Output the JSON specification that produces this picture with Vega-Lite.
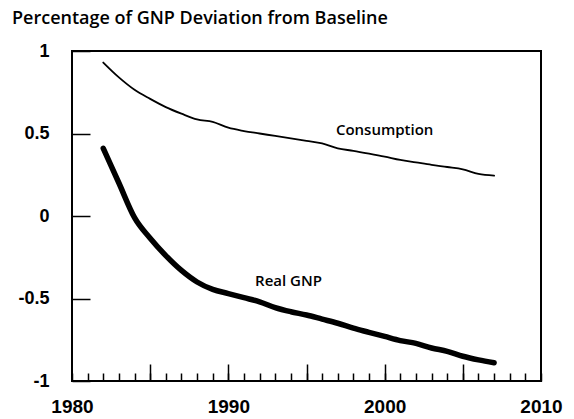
{
  "$schema": "https://vega.github.io/schema/vega-lite/v6.json",
  "width": 469,
  "height": 330,
  "autosize": "none",
  "padding": {"left": 72, "top": 51, "right": 33, "bottom": 38},
  "background": "white",
  "title": {
    "text": "Percentage of GNP Deviation from Baseline",
    "anchor": "start",
    "frame": "group",
    "dx": -60,
    "offset": 14,
    "font": "Open Sans",
    "fontSize": 18,
    "fontWeight": 600,
    "color": "black"
  },
  "config": {
    "view": {"stroke": "black", "strokeWidth": 2},
    "axis": {"grid": false, "domain": false, "title": null, "tickColor": "black", "labelColor": "black"}
  },
  "datasets": {
    "series": [
      {"year": 1982, "value": 0.93, "series": "Consumption"},
      {"year": 1983, "value": 0.84, "series": "Consumption"},
      {"year": 1984, "value": 0.765, "series": "Consumption"},
      {"year": 1985, "value": 0.71, "series": "Consumption"},
      {"year": 1986, "value": 0.66, "series": "Consumption"},
      {"year": 1987, "value": 0.62, "series": "Consumption"},
      {"year": 1988, "value": 0.585, "series": "Consumption"},
      {"year": 1989, "value": 0.57, "series": "Consumption"},
      {"year": 1990, "value": 0.535, "series": "Consumption"},
      {"year": 1991, "value": 0.515, "series": "Consumption"},
      {"year": 1992, "value": 0.5, "series": "Consumption"},
      {"year": 1993, "value": 0.485, "series": "Consumption"},
      {"year": 1994, "value": 0.47, "series": "Consumption"},
      {"year": 1995, "value": 0.455, "series": "Consumption"},
      {"year": 1996, "value": 0.44, "series": "Consumption"},
      {"year": 1997, "value": 0.41, "series": "Consumption"},
      {"year": 1998, "value": 0.395, "series": "Consumption"},
      {"year": 1999, "value": 0.378, "series": "Consumption"},
      {"year": 2000, "value": 0.36, "series": "Consumption"},
      {"year": 2001, "value": 0.34, "series": "Consumption"},
      {"year": 2002, "value": 0.325, "series": "Consumption"},
      {"year": 2003, "value": 0.31, "series": "Consumption"},
      {"year": 2004, "value": 0.297, "series": "Consumption"},
      {"year": 2005, "value": 0.283, "series": "Consumption"},
      {"year": 2006, "value": 0.255, "series": "Consumption"},
      {"year": 2007, "value": 0.245, "series": "Consumption"},
      {"year": 1982, "value": 0.41, "series": "Real GNP"},
      {"year": 1983, "value": 0.2, "series": "Real GNP"},
      {"year": 1984, "value": -0.01, "series": "Real GNP"},
      {"year": 1985, "value": -0.135, "series": "Real GNP"},
      {"year": 1986, "value": -0.24, "series": "Real GNP"},
      {"year": 1987, "value": -0.33, "series": "Real GNP"},
      {"year": 1988, "value": -0.4, "series": "Real GNP"},
      {"year": 1989, "value": -0.445, "series": "Real GNP"},
      {"year": 1990, "value": -0.47, "series": "Real GNP"},
      {"year": 1991, "value": -0.495, "series": "Real GNP"},
      {"year": 1992, "value": -0.52, "series": "Real GNP"},
      {"year": 1993, "value": -0.555, "series": "Real GNP"},
      {"year": 1994, "value": -0.58, "series": "Real GNP"},
      {"year": 1995, "value": -0.6, "series": "Real GNP"},
      {"year": 1996, "value": -0.625, "series": "Real GNP"},
      {"year": 1997, "value": -0.65, "series": "Real GNP"},
      {"year": 1998, "value": -0.68, "series": "Real GNP"},
      {"year": 1999, "value": -0.705, "series": "Real GNP"},
      {"year": 2000, "value": -0.73, "series": "Real GNP"},
      {"year": 2001, "value": -0.755, "series": "Real GNP"},
      {"year": 2002, "value": -0.772, "series": "Real GNP"},
      {"year": 2003, "value": -0.8, "series": "Real GNP"},
      {"year": 2004, "value": -0.82, "series": "Real GNP"},
      {"year": 2005, "value": -0.85, "series": "Real GNP"},
      {"year": 2006, "value": -0.872, "series": "Real GNP"},
      {"year": 2007, "value": -0.889, "series": "Real GNP"}
    ],
    "labels": [
      {"year": 2000, "value": 0.52, "label": "Consumption"},
      {"year": 1993.85, "value": -0.395, "label": "Real GNP"}
    ]
  },
  "layer": [
    {
      "mark": {"type": "rule", "color": "black", "strokeWidth": 1.5},
      "encoding": {"y": {"datum": 0, "type": "quantitative", "scale": {"domain": [-1, 1]}}}
    },
    {
      "data": {"name": "series"},
      "mark": {"type": "line", "color": "black", "strokeJoin": "round", "strokeCap": "round", "interpolate": "monotone"},
      "encoding": {
        "x": {
          "field": "year",
          "type": "quantitative",
          "scale": {"domain": [1980, 2010], "nice": false, "zero": false},
          "axis": {
            "orient": "bottom",
            "values": [1980, 1981, 1982, 1983, 1984, 1985, 1986, 1987, 1988, 1989, 1990, 1991, 1992, 1993, 1994, 1995, 1996, 1997, 1998, 1999, 2000, 2001, 2002, 2003, 2004, 2005, 2006, 2007, 2008, 2009, 2010],
            "tickSize": -8,
            "tickWidth": 1.5,
            "labelExpr": "datum.value % 10 === 0 ? '' + datum.value : ''",
            "labelFont": "Liberation Sans",
            "labelFontSize": 19,
            "labelFontWeight": "bold",
            "labelPadding": 24,
            "labelFlush": false,
            "labelOverlap": false
          }
        },
        "y": {
          "field": "value",
          "type": "quantitative",
          "scale": {"domain": [-1, 1], "nice": false},
          "axis": {
            "values": [-1, -0.5, 0, 0.5, 1],
            "tickSize": -18,
            "tickWidth": 1.5,
            "labelExpr": "'' + datum.value",
            "labelFont": "Liberation Sans",
            "labelFontSize": 18,
            "labelFontWeight": "bold",
            "labelPadding": 41,
            "labelFlush": false,
            "labelOverlap": false
          }
        },
        "detail": {"field": "series", "type": "nominal"},
        "size": {
          "field": "series",
          "type": "nominal",
          "scale": {"domain": ["Consumption", "Real GNP"], "range": [1.8, 5.5]},
          "legend": null
        }
      }
    },
    {
      "data": {"name": "labels"},
      "mark": {"type": "text", "font": "Open Sans", "fontSize": 15, "fontWeight": 600, "color": "black"},
      "encoding": {
        "x": {
          "field": "year",
          "type": "quantitative",
          "axis": {
            "orient": "bottom",
            "values": [1985, 1990, 1995, 2000, 2005],
            "tickSize": -17,
            "tickWidth": 1.5,
            "labels": false
          }
        },
        "y": {"field": "value", "type": "quantitative"},
        "text": {"field": "label"}
      }
    }
  ],
  "resolve": {"axis": {"x": "independent"}}
}
